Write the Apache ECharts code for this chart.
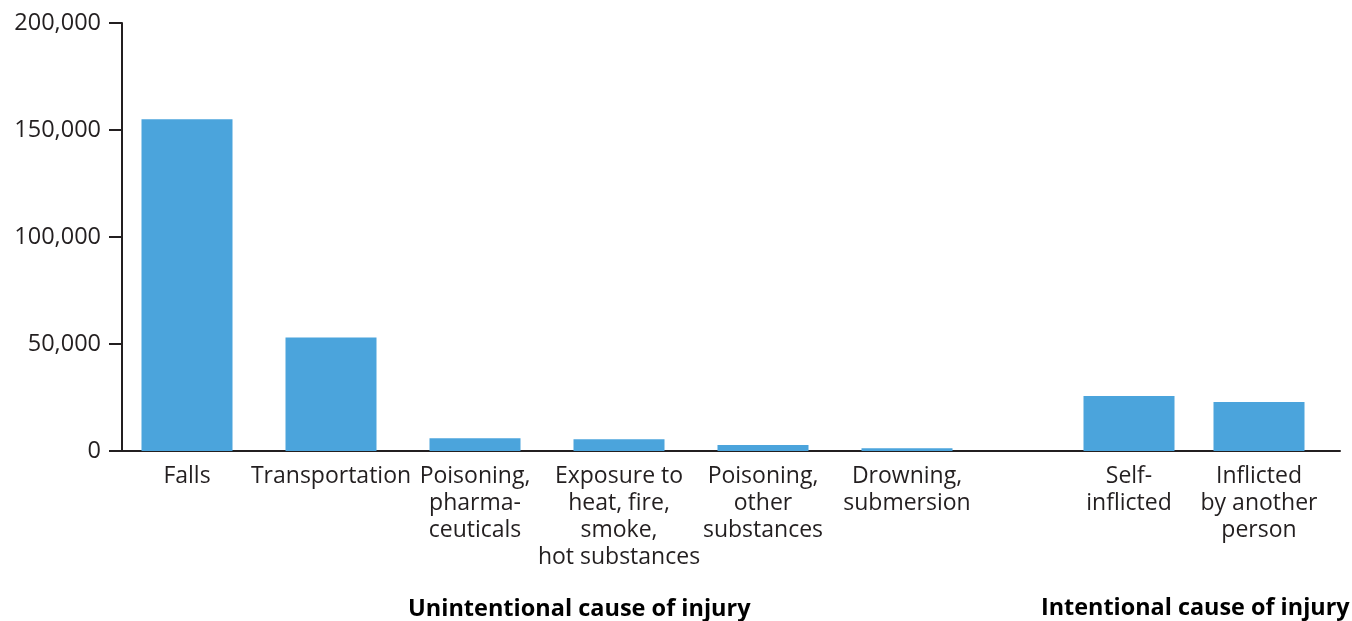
<!DOCTYPE html>
<html>
<head>
<meta charset="utf-8">
<script src="https://cdn.jsdelivr.net/npm/echarts@6/dist/echarts.min.js"></script>
<style>html,body{margin:0;padding:0;background:#fff}#c{width:1352px;height:621px}</style>
</head>
<body>
<div id="c"></div>
<script>
var unintentionalCats = ['Falls', 'Transportation', 'Poisoning,\npharma-\nceuticals', 'Exposure to\nheat, fire,\nsmoke,\nhot substances', 'Poisoning,\nother\nsubstances', 'Drowning,\nsubmersion'];
var unintentionalVals = [155000, 53000, 6000, 5500, 2800, 1300];
var intentionalCats = ['Self-\ninflicted', 'Inflicted\nby another\nperson'];
var intentionalVals = [25700, 22900];
var yTicks = [0, 50000, 100000, 150000, 200000];
var groupTitles = ['Unintentional cause of injury', 'Intentional cause of injury'];

var FONT = 'Open Sans';
var INK = '#231f20';
var BAR = '#4ba4dc';
var TOP = 23, BOTTOM = 170;
var yMin = yTicks[0], yMax = yTicks[yTicks.length - 1], yStep = yTicks[1] - yTicks[0];

function hiddenY(gi) {
  return {gridIndex: gi, type: 'value', min: yMin, max: yMax, interval: yStep, show: false};
}
function catX(gi, cats) {
  return {
    gridIndex: gi, type: 'category', data: cats,
    axisLine: {show: false}, axisTick: {show: false},
    axisLabel: {color: INK, fontFamily: FONT, fontSize: 23, lineHeight: 27, margin: 12, interval: 0}
  };
}

var chart = echarts.init(document.getElementById('c'), null, {renderer: 'canvas'});
chart.setOption({
  animation: false,
  grid: [
    {left: 122, right: 12, top: TOP, bottom: BOTTOM},
    {left: 115, width: 864, top: TOP, bottom: BOTTOM},
    {left: 1064, width: 260, top: TOP, bottom: BOTTOM}
  ],
  xAxis: [
    {gridIndex: 0, type: 'value', min: 0, max: 1, axisLabel: {show: false}, splitLine: {show: false}, axisTick: {show: false},
     axisLine: {show: true, lineStyle: {color: INK, width: 2}}},
    catX(1, unintentionalCats),
    catX(2, intentionalCats)
  ],
  yAxis: [
    {gridIndex: 0, type: 'value', min: yMin, max: yMax, interval: yStep,
     splitLine: {show: false},
     axisLine: {show: true, lineStyle: {color: INK, width: 2}},
     axisTick: {show: true, length: 13, lineStyle: {color: INK, width: 2}},
     axisLabel: {color: INK, fontFamily: FONT, fontSize: 23.5, margin: 21,
       formatter: function (v) { return v.toLocaleString('en-US'); }}},
    hiddenY(1),
    hiddenY(2)
  ],
  series: [
    {type: 'bar', xAxisIndex: 1, yAxisIndex: 1, data: unintentionalVals, barWidth: 91, itemStyle: {color: BAR}},
    {type: 'bar', xAxisIndex: 2, yAxisIndex: 2, data: intentionalVals, barWidth: 91, itemStyle: {color: BAR}}
  ],
  graphic: [
    {type: 'text', left: 408, top: 597, style: {text: groupTitles[0], fill: '#000', font: 'bold 23.5px "Open Sans"'}},
    {type: 'text', left: 1041, top: 597, style: {text: groupTitles[1], fill: '#000', font: 'bold 23.4px "Open Sans"'}}
  ]
});
</script>
</body>
</html>
